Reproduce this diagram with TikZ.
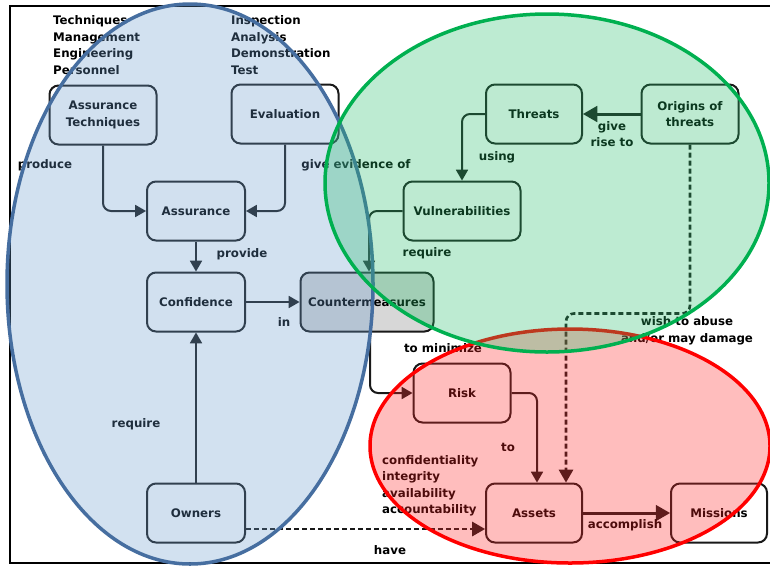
\documentclass[tikz,border=0pt]{standalone}
\usepackage{fontspec}
\setmainfont{DejaVu Sans}
\usetikzlibrary{shapes}
\usetikzlibrary{arrows}

\definecolor{boxline}{RGB}{25,25,25}
\definecolor{cmgray}{RGB}{215,215,215}
\definecolor{ownfill}{RGB}{105,155,205}
\definecolor{ownline}{RGB}{70,110,160}
\definecolor{thrfill}{RGB}{38,188,105}
\definecolor{thrline}{RGB}{0,176,80}
\definecolor{assfill}{RGB}{255,38,38}
\definecolor{assline}{RGB}{255,0,0}

\begin{document}
\begin{tikzpicture}[x=1pt,y=-1pt]
			\tikzstyle{every node}=[font=\fontsize{11.8}{16.5}\selectfont\bfseries]
			\tikzstyle{box}=[rectangle,draw=boxline,line width=2pt,rounded corners=9pt,fill=white,align=center,minimum height=59pt]
			\tikzstyle{lbl}=[align=center,inner sep=0pt]
			\tikzstyle{list}=[align=left,anchor=west,inner sep=0pt]
			\tikzstyle{arr}=[draw=boxline,line width=2pt,-triangle 60,rounded corners=8pt]
			\tikzstyle{darr}=[arr,line width=2.6pt,dash pattern=on 5pt off 3pt]
			\tikzstyle{zone}=[line width=3.5pt,fill opacity=0.3,draw opacity=1]

			\useasboundingbox (0,0) rectangle (770,566);
			\draw[line width=2pt] (10,6) rectangle (774,563);

			\node[list] (techlist) at (53,45) {Techniques\\Management\\Engineering\\Personnel};
			\node[list] (evallist) at (231,45) {Inspection\\Analysis\\Demonstration\\Test};

			\node[box,minimum width=107pt] (asstech) at (103,115) {Assurance\\Techniques};
			\node[box,minimum width=107pt] (eval) at (285,114) {Evaluation};
			\node[box,minimum width=98pt] (assur) at (196,211) {Assurance};
			\node[box,minimum width=98pt] (conf) at (196,302) {Confidence};
			\node[box,minimum width=133pt,fill=cmgray] (counter) at (367,302) {Countermeasures};
			\node[box,minimum width=98pt] (owners) at (196,513) {Owners};
			\node[box,minimum width=96pt] (threats) at (534,114) {Threats};
			\node[box,minimum width=97pt] (origins) at (690,114) {Origins of\\threats};
			\node[box,minimum width=117pt] (vuln) at (462,211) {Vulnerabilities};
			\node[box,minimum width=97pt] (risk) at (462,393) {Risk};
			\node[box,minimum width=96pt] (assets) at (534,513) {Assets};
			\node[box,minimum width=96pt] (missions) at (719,513) {Missions};

			\draw[arr] (asstech.south) |- (assur.west);
			\draw[arr] (eval.south) |- (assur.east);
			\draw[arr] (assur) -- (conf);
			\draw[arr] (conf) -- (counter);
			\draw[arr] (owners) -- (conf);
			\draw[darr] ([yshift=-16pt]owners.east) -- ([yshift=-16pt]assets.west);
			\draw[arr] (threats.west) -| (vuln.north);
			\draw[arr,line width=3pt] (origins) -- (threats);
			\draw[arr] (vuln.west) -| ([xshift=2pt]counter.north);
			\draw[arr] ([xshift=3pt]counter.south) |- (risk.west);
			\draw[arr] (risk.east) -| ([xshift=3pt]assets.north);
			\draw[darr] (origins.south) -- ++(0,169) -| ([xshift=32pt]assets.north);
			\draw[arr,line width=3pt] (assets) -- (missions);

			\node[lbl] (produce) at (45,165) {produce};
			\node[lbl] (evidence) at (356,165) {give evidence of};
			\node[lbl] (provide) at (242,254) {provide};
			\node[lbl] (in) at (284,322) {in};
			\node[lbl] (ownreq) at (136,424) {require};
			\node[lbl] (using) at (497,157) {using};
			\node[lbl] (giverise) at (612,134) {give\\rise to};
			\node[lbl] (vulnreq) at (427,253) {require};
			\node[lbl] (minimize) at (443,348) {to minimize};
			\node[lbl] (abuse) at (687,331) {wish to abuse\\and/or may damage};
			\node[lbl] (to) at (508,447) {to};
			\node[list] (cia) at (382,486) {confidentiality\\integrity\\availability\\accountability};
			\node[lbl] (accomplish) at (625,525) {accomplish};
			\node[lbl] (have) at (390,550) {have};

			\draw[zone,draw=ownline,fill=ownfill] (190,284) ellipse (183pt and 280pt);
			\draw[zone,draw=assline,fill=assfill] (570,446) ellipse (200pt and 117pt);
			\draw[zone,draw=thrline,fill=thrfill] (547,183) ellipse (222pt and 169pt);
\end{tikzpicture}
\end{document}
